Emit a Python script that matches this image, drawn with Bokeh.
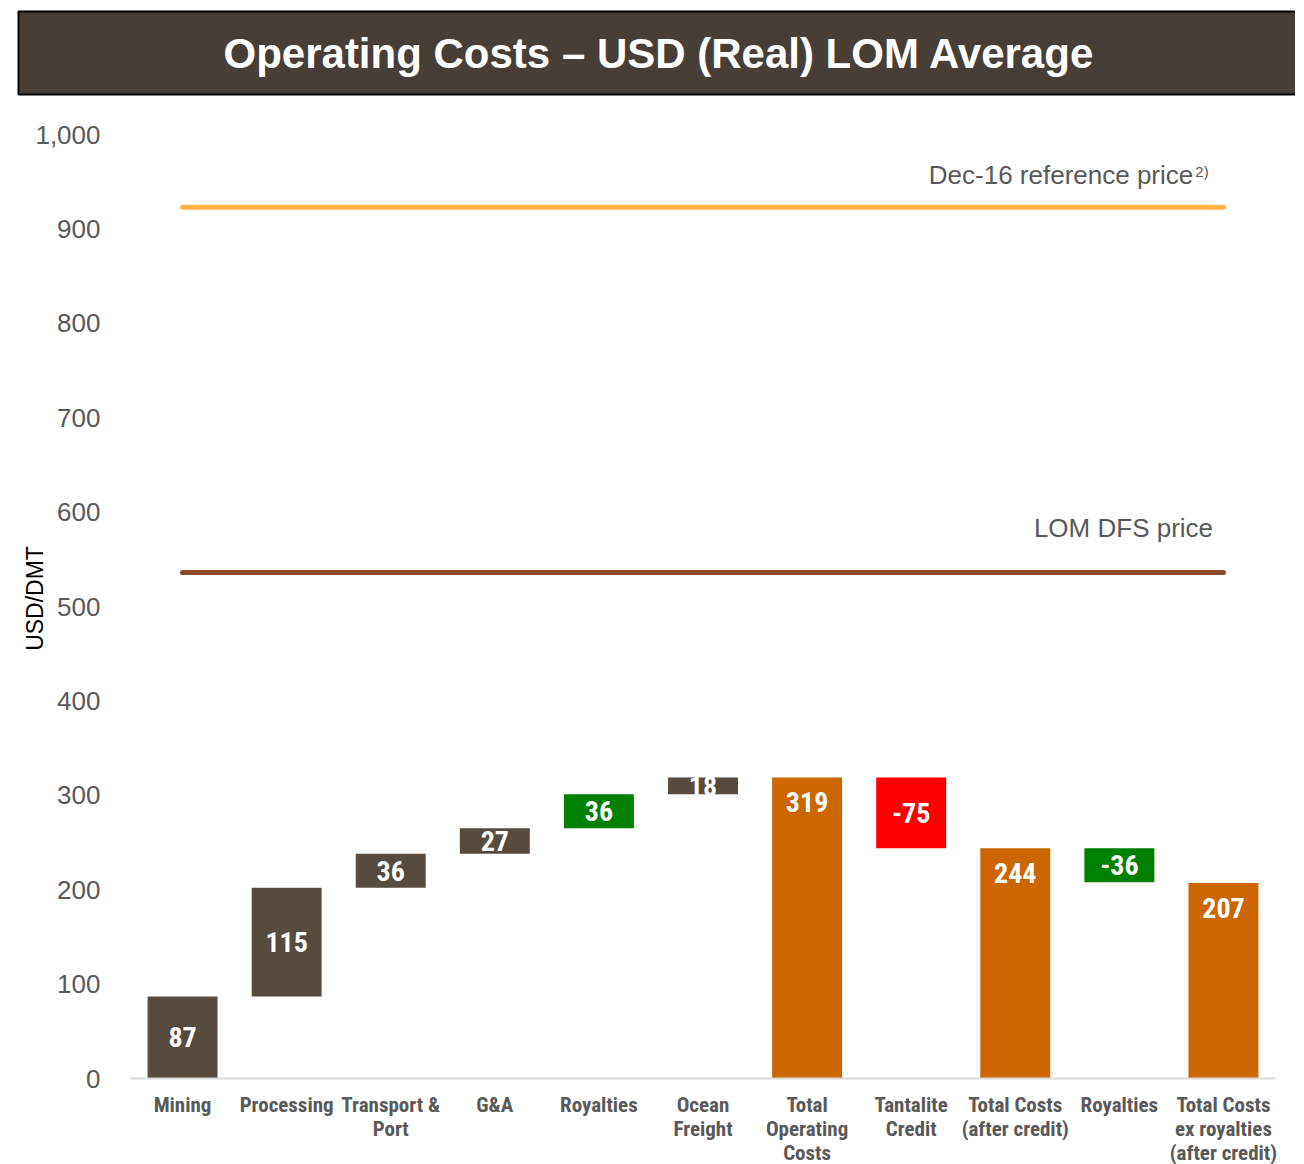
from bokeh.plotting import figure
from bokeh.models import Range1d, FixedTicker, NumeralTickFormatter, ColumnDataSource
from bokeh.core.properties import value
from bokeh.embed import file_html
from bokeh.resources import INLINE

# ---------------- data ----------------
title_text = "Operating Costs \u2013 USD (Real) LOM Average"
y_axis_title = "USD/DMT"
categories = ["Mining", "Processing", "Transport &\nPort", "G&A", "Royalties",
              "Ocean\nFreight", "Total\nOperating\nCosts", "Tantalite\nCredit",
              "Total Costs\n(after credit)", "Royalties",
              "Total Costs\nex royalties\n(after credit)"]
values = [87, 115, 36, 27, 36, 18, 319, -75, 244, -36, 207]
kinds = ["step", "step", "step", "step", "step", "step", "total",
         "step", "total", "step", "total"]
y_ticks = [0, 100, 200, 300, 400, 500, 600, 700, 800, 900, 1000]
price_values = [923, 536]
price_labels = ["Dec-16 reference price", "LOM DFS price"]
price_note = "2)"

# ---------------- styles ----------------
DARK = "#574B3F"
GREEN = "#008000"
RED = "#FF0000"
ORANGE = "#CC6600"
bar_colors = [DARK, DARK, DARK, DARK, GREEN, DARK, ORANGE, RED, ORANGE, GREEN, ORANGE]
NARROW = "'Liberation Sans Narrow', 'Arial Narrow', 'Roboto Condensed', Roboto, sans-serif"
SANS = "'Liberation Sans', Arial, sans-serif"
GREY = "#595959"

# ---------------- waterfall geometry ----------------
xs = list(range(1, len(categories) + 1))
bottoms, tops = [], []
running = 0
for v, k in zip(values, kinds):
    if k == "total":
        b, t = 0, v
        running = v
    else:
        b, t = running, running + v
        running = t
    bottoms.append(min(b, t))
    tops.append(max(b, t))

label_y, label_off = [], []
for b, t, k in zip(bottoms, tops, kinds):
    if k == "total":
        label_y.append(t)
        label_off.append(25)
    else:
        label_y.append((b + t) / 2)
        label_off.append(0)

src = ColumnDataSource(dict(x=xs, bottom=bottoms, top=tops, color=bar_colors,
                            label=[str(v) for v in values], ly=label_y, off=label_off))

# ---------------- main chart ----------------
p = figure(frame_width=1145, frame_height=960,
           x_range=Range1d(0.5, len(categories) + 0.5), y_range=Range1d(0, 1017),
           output_backend="svg", toolbar_location=None,
           min_border_left=130, min_border_right=20, min_border_top=0, min_border_bottom=70,
           margin=(-11, 0, 0, 0))
p.outline_line_color = None
p.grid.visible = False
p.background_fill_color = "white"

# title bar
p.title.text = title_text
p.title.align = "left"
p.title.vertical_align = "top"
p.title.offset = -112
p.title.text_color = "white"
p.title.text_font = SANS
p.title.text_font_style = "bold"
p.title.text_font_size = "42px"
p.title.background_fill_color = "#473F37"
p.title.border_line_color = "black"
p.title.border_line_width = 2
p.title.padding = (205, 18)
p.title.standoff = 44

p.vbar(x="x", bottom="bottom", top="top", width=0.672, fill_color="color",
       line_color=None, source=src)
p.text(x="x", y="ly", text="label", y_offset="off", source=src,
       text_align="center", text_baseline="middle", text_color="white",
       text_font=value(NARROW), text_font_style="bold", text_font_size="28px")

# price lines
line_colors = ["#FFB347", "#8E4B2A"]
for pv, lc in zip(price_values, line_colors):
    p.segment(x0=[1.0], y0=[pv], x1=[len(categories)], y1=[pv],
              line_color=lc, line_width=5, line_cap="round")

p.text(x=[10.71], y=[price_values[0] + 34], text=[price_labels[0]],
       text_align="right", text_baseline="middle", text_color=GREY,
       text_font=value(SANS), text_font_size="26px")
p.text(x=[10.73], y=[price_values[0] + 38], text=[price_note],
       text_align="left", text_baseline="middle", text_color=GREY,
       text_font=value(SANS), text_font_size="15px")
p.text(x=[10.90], y=[price_values[1] + 47], text=[price_labels[1]],
       text_align="right", text_baseline="middle", text_color=GREY,
       text_font=value(SANS), text_font_size="26px")

# axes
yax = p.yaxis[0]
yax.ticker = FixedTicker(ticks=y_ticks)
yax.formatter = NumeralTickFormatter(format="0,0")
yax.axis_line_color = None
yax.major_tick_line_color = None
yax.minor_tick_line_color = None
yax.major_label_text_font = SANS
yax.major_label_text_font_size = "26px"
yax.major_label_text_color = GREY
yax.major_label_standoff = 24
yax.axis_label = y_axis_title
yax.axis_label_text_font = SANS
yax.axis_label_text_font_size = "23px"
yax.axis_label_text_font_style = "normal"
yax.axis_label_text_color = "black"
yax.axis_label_standoff = -16

xax = p.xaxis[0]
xax.ticker = FixedTicker(ticks=xs)
xax.major_label_overrides = {x: c for x, c in zip(xs, categories)}
xax.axis_line_color = "#D9D9D9"
xax.axis_line_width = 2
xax.major_tick_line_color = None
xax.minor_tick_line_color = None
xax.major_label_text_font = NARROW
xax.major_label_text_font_style = "bold"
xax.major_label_text_font_size = "21px"
xax.major_label_text_line_height = 1.0
xax.major_label_text_color = GREY
xax.major_label_standoff = 8

open("out.html", "w").write(file_html(p, INLINE))
